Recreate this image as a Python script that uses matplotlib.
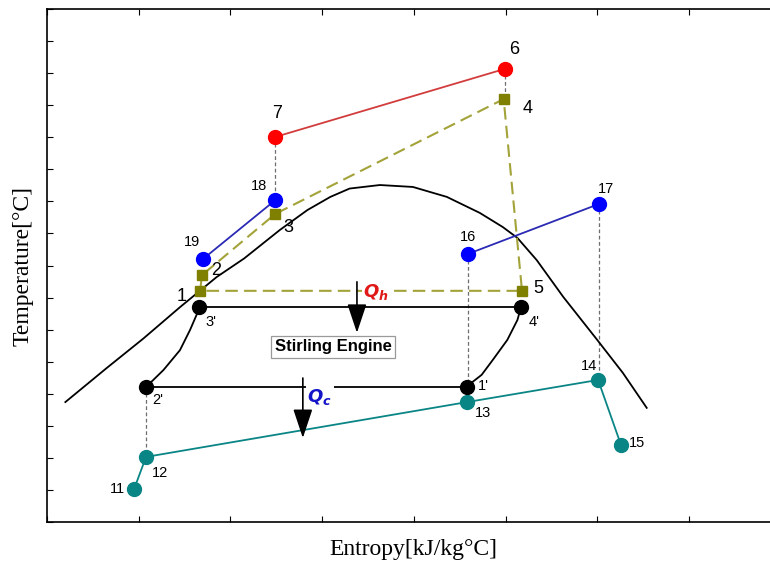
import matplotlib
matplotlib.use('Agg')
import matplotlib.pyplot as plt

# ── data (arbitrary entropy / temperature units, 1 unit = one tick) ──────────
# heat source (red) 7 -> 6
src_s = [2.49, 4.99]
src_t = [12.01, 14.13]

# blue streams 19 -> 18 and 16 -> 17
hb1_s = [1.70, 2.49]
hb1_t = [8.20, 10.04]
hb2_s = [4.59, 6.02]
hb2_t = [8.36, 9.92]

# working fluid cycle (olive, dashed) 1 -> 2 -> 3 -> 4 -> 5 -> 1
wf_s = [1.67, 1.69, 2.49, 4.98, 5.18, 1.67]
wf_t = [7.21, 7.70, 9.61, 13.19, 7.21, 7.21]

# cooling water (teal) 11 -> 12 -> 13 -> 14 -> 15
cw_s = [0.95, 1.08, 4.58, 6.01, 6.26]
cw_t = [1.03, 2.03, 3.74, 4.43, 2.40]

# stirling cycle state points 3', 4', 1', 2'
st_s = [1.66, 5.17, 4.58, 1.08]
st_t = [6.71, 6.71, 4.21, 4.21]
# curved legs 2' -> 3' and 4' -> 1'
leg_a_s = [1.08, 1.27, 1.45, 1.56, 1.64, 1.66]
leg_a_t = [4.21, 4.74, 5.36, 5.99, 6.52, 6.71]
leg_b_s = [5.17, 5.13, 5.02, 4.86, 4.74, 4.61]
leg_b_t = [6.71, 6.30, 5.68, 5.05, 4.59, 4.30]

# saturation dome
dome_s = [0.20, 0.65, 1.05, 1.45, 1.85, 2.15, 2.54, 2.84, 3.09, 3.30,
          3.63, 3.99, 4.36, 4.72, 4.97, 5.13, 5.34, 5.63, 6.00, 6.28, 6.54]
dome_t = [3.74, 4.80, 5.72, 6.70, 7.64, 8.22, 9.11, 9.73, 10.14, 10.40,
          10.51, 10.45, 10.14, 9.64, 9.20, 8.86, 8.17, 7.02, 5.68, 4.65, 3.56]

# gray dashed drop lines (s, t_top, t_bottom)
drops = [(2.49, 12.01, 10.04), (4.99, 14.13, 13.19), (4.59, 8.36, 3.74),
         (6.02, 9.92, 4.43), (1.08, 4.21, 2.03)]

# point labels: (s, t, text, dx px, dy px, size)
labels = [
    (2.49, 12.01, '7', 2, 23, 13), (4.99, 14.13, '6', 10, 19, 13),
    (4.98, 13.19, '4', 24, -9, 13), (2.49, 9.61, '3', 13, -14, 13),
    (1.69, 7.70, '2', 14, 5, 13), (1.67, 7.21, '1', -19, -6, 13),
    (5.18, 7.21, '5', 16, 2, 13),
    (2.49, 10.04, '18', -16, 14, 10.5), (1.70, 8.20, '19', -11, 17, 10.5),
    (4.59, 8.36, '16', 0, 17, 10.5), (6.02, 9.92, '17', 7, 15, 10.5),
    (1.66, 6.71, "3'", 12, -15, 10.5), (5.17, 6.71, "4'", 13, -15, 10.5),
    (1.08, 4.21, "2'", 12, -13, 10.5), (4.58, 4.21, "1'", 16, 1, 10.5),
    (1.08, 2.03, '12', 14, -16, 10.5), (0.95, 1.03, '11', -17, 0, 10.5),
    (4.58, 3.74, '13', 16, -11, 10.5), (6.01, 4.43, '14', -9, 14, 10.5),
    (6.26, 2.40, '15', 16, 2, 10.5),
]

qh_arrow = (3.38, 7.49, 5.90)
qc_arrow = (2.79, 4.49, 2.62)

RED, REDL = '#ff0000', '#d23c3c'
BLUE, BLUEL = '#0000ff', '#2a2ab4'
OLIVE, OLIVEL = '#7f7f00', '#a3a33a'
TEAL = '#0a8585'
GRAY = '#6e6e6e'

plt.rcParams['font.family'] = ['Liberation Sans', 'DejaVu Sans']
plt.rcParams['mathtext.fontset'] = 'dejavusans'

fig = plt.figure(figsize=(7.7, 5.64), dpi=100)
ax = fig.add_axes([47 / 770, 42 / 564, 733.6 / 770, 513 / 564])
ax.set_xlim(0, 8)
ax.set_ylim(0, 16)

for s, t1, t2 in drops:
    ax.plot([s, s], [t1, t2], ls=(0, (3, 2)), color=GRAY, lw=0.9, zorder=1)

ax.plot(dome_s, dome_t, color='black', lw=1.3, zorder=2)

ax.plot(leg_a_s, leg_a_t, color='black', lw=1.3, zorder=2)
ax.plot(leg_b_s, leg_b_t, color='black', lw=1.3, zorder=2)
ax.plot(st_s[:2], st_t[:2], color='black', lw=1.3, zorder=2)
ax.plot(st_s[2:], st_t[2:], color='black', lw=1.3, zorder=2)

ax.plot(src_s, src_t, color=REDL, lw=1.3, zorder=3)
ax.plot(hb1_s, hb1_t, color=BLUEL, lw=1.3, zorder=3)
ax.plot(hb2_s, hb2_t, color=BLUEL, lw=1.3, zorder=3)
ax.plot(wf_s, wf_t, color=OLIVEL, lw=1.5, ls=(0, (6, 3)), zorder=3)
ax.plot(cw_s, cw_t, color=TEAL, lw=1.3, zorder=3)

ax.plot(src_s, src_t, 'o', color=RED, ms=10, zorder=5)
ax.plot(hb1_s + hb2_s, hb1_t + hb2_t, 'o', color=BLUE, ms=10, zorder=5)
ax.plot(wf_s[:-1], wf_t[:-1], 's', color=OLIVE, ms=7, zorder=5)
ax.plot(cw_s, cw_t, 'o', color=TEAL, ms=10, zorder=5)
ax.plot(st_s, st_t, 'o', color='black', ms=10, zorder=5)

for s, t, txt, dx, dy, fs in labels:
    ax.annotate(txt, (s, t), xytext=(dx, dy), textcoords='offset pixels',
                ha='center', va='center', fontsize=fs, zorder=6)

# Q arrows and labels
for (xa, y0, y1) in (qh_arrow, qc_arrow):
    ax.annotate('', xy=(xa, y1), xytext=(xa, y0),
                arrowprops=dict(arrowstyle='-|>,head_length=0.9,head_width=0.3',
                                color='black', lw=1.2, shrinkA=0, shrinkB=0,
                                mutation_scale=20), zorder=7)
ax.text(qh_arrow[0] + 0.07, 7.18, r'$\mathbfit{Q}_{\mathbfit{h}}$', color='#e01818',
        fontsize=13, ha='left', va='center', zorder=6,
        bbox=dict(fc='white', ec='none', pad=1))
ax.text(qc_arrow[0] + 0.05, 3.9, r'$\mathbfit{Q}_{\mathbfit{c}}$', color='#1414c8',
        fontsize=13, ha='left', va='center', zorder=6,
        bbox=dict(fc='white', ec='none', pad=1))

ax.text(3.12, 5.46, 'Stirling Engine', fontsize=12, fontweight='bold',
        ha='center', va='center', zorder=6,
        bbox=dict(fc='white', ec='#9a9a9a', lw=0.9, boxstyle='square,pad=0.2'))

ax.set_xticks(range(0, 9))
ax.set_yticks(range(0, 17))
ax.tick_params(direction='in', length=4, width=0.8, top=True, right=False,
               labelbottom=False, labelleft=False)
for sp in ax.spines.values():
    sp.set_linewidth(1.2)

ax.set_xlabel('Entropy[kJ/kg°C]', family='Liberation Serif', fontsize=17,
              labelpad=12)
ax.set_ylabel('Temperature[°C]', family='Liberation Serif', fontsize=17,
              labelpad=10)

fig.savefig('out.png', dpi=100)
